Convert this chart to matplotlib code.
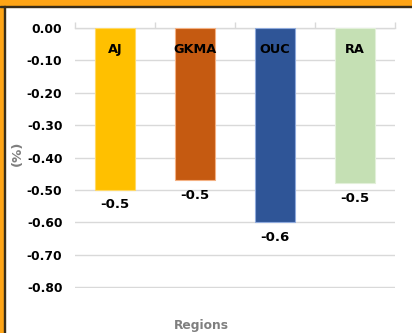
import matplotlib.pyplot as plt
from matplotlib.patches import Rectangle

regions = ['AJ', 'GKMA', 'OUC', 'RA']
change = [-0.50, -0.47, -0.60, -0.48]
colors = ['#FFC000', '#C55A11', '#2F5597', '#C5E0B4']
edges = ['#FFD966', '#F4B183', '#8FAADC', '#E2F0D9']
yticks = [0.0, -0.1, -0.2, -0.3, -0.4, -0.5, -0.6, -0.7, -0.8]

plt.rcParams['font.family'] = ['DejaVu Sans']
plt.rcParams['font.weight'] = 'bold'

fig = plt.figure(figsize=(4.12, 3.33), dpi=100)
ax = fig.add_axes([0.182, 0.135, 0.777, 0.781])

x = range(len(regions))
bars = ax.bar(x, change, width=0.5, color=colors, edgecolor=edges,
              linewidth=0.8, zorder=3)

ax.set_ylim(-0.803, 0)
ax.set_xlim(-0.5, len(regions) - 0.5)
ax.set_yticks(yticks)
ax.set_yticklabels(['%.2f' % v for v in yticks], fontsize=8.8,
                   fontweight='bold')
ax.tick_params(axis='y', length=0, pad=9)

# category separators as small ticks on the zero line
ax.xaxis.set_ticks_position('top')
ax.set_xticks([i - 0.5 for i in range(len(regions) + 1)])
ax.set_xticklabels([])
ax.tick_params(axis='x', direction='out', length=4, color='#D9D9D9',
               width=1)

ax.grid(axis='y', color='#D9D9D9', linewidth=1, zorder=0)
for side in ['left', 'right', 'bottom']:
    ax.spines[side].set_visible(False)
ax.spines['top'].set_color('#D9D9D9')
ax.spines['top'].set_linewidth(1)

for i, (name, v) in enumerate(zip(regions, change)):
    ax.text(i, -0.065, name, ha='center', va='center', fontsize=9.3,
            fontweight='bold', color='black', zorder=4)
    ax.annotate('%.1f' % v, (i, v), xytext=(0, -6),
                textcoords='offset points', ha='center', va='top',
                fontsize=9.5, fontweight='bold', color='black')

fig.text(17 / 412, 1 - 153 / 333, '(%)', rotation=90, ha='center',
         va='center', fontsize=9.5, fontweight='bold', color='#7F7F7F')
fig.text(201 / 412, 1 - 325 / 333, 'Regions', ha='center', va='center',
         fontsize=8.8, fontweight='bold', color='#7F7F7F')

# orange frame along the top and left edges
W, H = 412, 333
fig.patches.append(Rectangle((0, 1 - 6 / H), 1, 6 / H,
                             transform=fig.transFigure,
                             color='#FFA516', zorder=0))
fig.patches.append(Rectangle((0, 1 - 7.3 / H), 1, 1.5 / H,
                             transform=fig.transFigure,
                             color='#3A2E1A', zorder=1))
fig.patches.append(Rectangle((0, 0), 3.8 / W, 1,
                             transform=fig.transFigure,
                             color='#FFA516', zorder=0))
fig.patches.append(Rectangle((3.8 / W, 0), 1.3 / W, 1 - 6 / H,
                             transform=fig.transFigure,
                             color='#3A2E1A', zorder=1))

fig.savefig('out.png', dpi=100)
